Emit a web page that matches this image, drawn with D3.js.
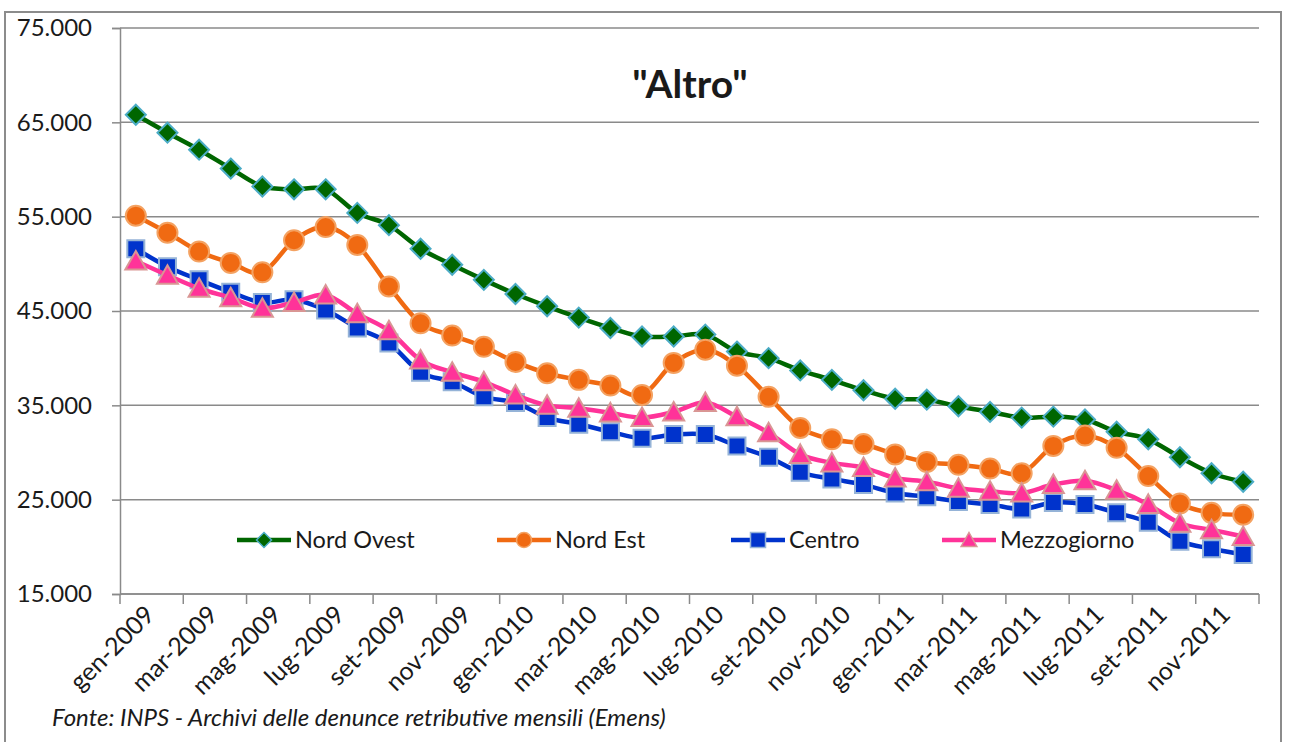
<!DOCTYPE html>
<html>
<head>
<meta charset="utf-8">
<script src="https://cdn.jsdelivr.net/npm/d3@7/dist/d3.min.js"></script>
<style>
  html, body { margin: 0; padding: 0; background: #fff; }
  svg { display: block; }
  text { font-family: Lato, "Open Sans", "DejaVu Sans", sans-serif; fill: #1a1a1a; }
</style>
</head>
<body>
<svg id="chart" width="1292" height="742"></svg>
<script>
// ---------------- DATA ----------------
const categories = [
  "gen-2009","feb-2009","mar-2009","apr-2009","mag-2009","giu-2009","lug-2009","ago-2009","set-2009","ott-2009","nov-2009","dic-2009",
  "gen-2010","feb-2010","mar-2010","apr-2010","mag-2010","giu-2010","lug-2010","ago-2010","set-2010","ott-2010","nov-2010","dic-2010",
  "gen-2011","feb-2011","mar-2011","apr-2011","mag-2011","giu-2011","lug-2011","ago-2011","set-2011","ott-2011","nov-2011","dic-2011"
];
const nordOvest = [65800,63900,62100,60100,58200,57900,57900,55400,54100,51600,49900,48300,
                   46800,45500,44300,43200,42300,42300,42500,40700,40000,38700,37700,36600,
                   35700,35600,34900,34300,33700,33800,33500,32200,31400,29500,27800,26900];
const nordEst   = [55100,53300,51300,50100,49100,52500,53900,52000,47600,43700,42400,41200,
                   39600,38400,37700,37100,36100,39500,40900,39200,35900,32600,31400,30900,
                   29800,29000,28700,28300,27800,30700,31800,30500,27500,24600,23600,23400];
const centro    = [51600,49700,48300,47000,45900,46200,45100,43200,41600,38500,37500,35900,
                   35300,33700,33000,32200,31500,31900,31900,30700,29500,27900,27200,26600,
                   25700,25300,24800,24500,24000,24700,24500,23600,22600,20600,19800,19200];
const mezzogiorno = [50300,48800,47400,46400,45300,45900,46700,44700,42900,39800,38500,37500,
                     36100,35000,34700,34200,33700,34300,35300,33800,32100,29800,28900,28400,
                     27300,26900,26200,25900,25700,26600,27000,26000,24500,22500,21800,21100];
const seriesNames = ["Nord Ovest","Nord Est","Centro","Mezzogiorno"];
const yTicks = [15000,25000,35000,45000,55000,65000,75000];
const titleText = '"Altro"';
const sourceText = "Fonte: INPS - Archivi delle denunce retributive mensili (Emens)";

// ---------------- STYLE ----------------
const styles = [
  {line:"#006600", fill:"#006600", stroke:"#4bacc6", shape:"diamond"},
  {line:"#f06a12", fill:"#f06a12", stroke:"#f4a262", shape:"circle"},
  {line:"#0033cc", fill:"#0033cc", stroke:"#95b3d7", shape:"square"},
  {line:"#ff3399", fill:"#ff3399", stroke:"#d99694", shape:"triangle"}
];
const seriesData = [nordOvest, nordEst, centro, mezzogiorno];

const svg = d3.select("#chart");
const pLeft = 120, pRight = 1259, pTop = 28, pBottom = 594;

// outer frame
svg.append("rect").attr("x",5).attr("y",12).attr("width",1276).attr("height",760)
  .attr("fill","none").attr("stroke","#8c8c8c").attr("stroke-width",2);

const x = d3.scaleBand().domain(categories).range([pLeft, pRight]).paddingInner(0).paddingOuter(0);
const y = d3.scaleLinear().domain([15000, 75000]).range([pBottom, pTop]);

const itLocale = d3.formatLocale({decimal:",", thousands:".", grouping:[3], currency:["€",""]});
const fmt = itLocale.format(",.0f");

// gridlines
svg.append("g").selectAll("line").data(yTicks).join("line")
  .attr("x1", pLeft).attr("x2", pRight)
  .attr("y1", d => y(d)).attr("y2", d => y(d))
  .attr("stroke","#8a8a8a").attr("stroke-width",1.5);

// y axis
const yAxis = d3.axisLeft(y).tickValues(yTicks).tickFormat(fmt).tickSize(8).tickPadding(20);
const gy = svg.append("g").attr("transform",`translate(${pLeft},0)`).call(yAxis);
gy.select(".domain").attr("stroke","#8a8a8a").attr("stroke-width",1.5);
gy.selectAll(".tick line").attr("stroke","#8a8a8a").attr("stroke-width",1.5);
gy.selectAll(".tick text").attr("font-size",24).attr("fill","#1a1a1a")
  .style("font-family","Lato, 'Open Sans', sans-serif");

// x axis (line + ticks every 2 categories)
svg.append("line").attr("x1",pLeft).attr("x2",pRight).attr("y1",pBottom).attr("y2",pBottom)
  .attr("stroke","#8a8a8a").attr("stroke-width",1.5);
const tickCats = categories.filter((d,i) => i % 2 === 0);
const tickPos = tickCats.map(c => x(c)).concat([pRight]);
svg.append("g").selectAll("line").data(tickPos).join("line")
  .attr("x1", d => d).attr("x2", d => d).attr("y1", pBottom).attr("y2", pBottom + 10)
  .attr("stroke","#8a8a8a").attr("stroke-width",1.5);
svg.append("g").selectAll("text").data(tickCats).join("text")
  .attr("transform", d => `translate(${x(d) + x.bandwidth()/2 + 7},${pBottom + 9}) rotate(-45)`)
  .attr("text-anchor","end").attr("dy","0.75em")
  .attr("font-size",25)
  .text(d => d);

// series
const line = d3.line()
  .x((d,i) => x(categories[i]) + x.bandwidth()/2)
  .y(d => y(d))
  .curve(d3.curveCatmullRom.alpha(0));

const symbolPath = {
  diamond: s => `M0,${-s}L${s},0L0,${s}L${-s},0Z`,
  circle: s => d3.arc()({innerRadius:0, outerRadius:s, startAngle:0, endAngle:2*Math.PI}),
  square: s => `M${-s},${-s}H${s}V${s}H${-s}Z`,
  triangle: s => `M0,${-s}L${s*1.05},${s*0.85}L${-s*1.05},${s*0.85}Z`
};
const markerSize = {diamond:10, circle:10, square:8.5, triangle:10};

seriesData.forEach((vals, k) => {
  const st = styles[k];
  const g = svg.append("g");
  g.append("path").attr("d", line(vals)).attr("fill","none")
    .attr("stroke", st.line).attr("stroke-width",4.5).attr("stroke-linejoin","round");
  g.selectAll("path.m").data(vals).join("path").attr("class","m")
    .attr("transform",(d,i) => `translate(${x(categories[i]) + x.bandwidth()/2},${y(d)})`)
    .attr("d", symbolPath[st.shape](markerSize[st.shape]))
    .attr("fill", st.fill).attr("stroke", st.stroke).attr("stroke-width",2);
});

// legend
const legendX = [237, 497, 731, 942];
const legendY = 540;
const lg = svg.append("g");
seriesNames.forEach((name, k) => {
  const st = styles[k];
  const x0 = legendX[k];
  lg.append("line").attr("x1",x0).attr("x2",x0+54).attr("y1",legendY).attr("y2",legendY)
    .attr("stroke", st.line).attr("stroke-width",4.5);
  lg.append("path").attr("transform",`translate(${x0+27},${legendY})`)
    .attr("d", symbolPath[st.shape](7.5))
    .attr("fill", st.fill).attr("stroke", st.stroke).attr("stroke-width",1.5);
  lg.append("text").attr("x", x0+58).attr("y", legendY).attr("dy","0.36em")
    .attr("font-size",23.5).text(name);
});

// title
svg.append("text").attr("x",690).attr("y",98).attr("text-anchor","middle")
  .attr("font-size",39).attr("font-weight","bold").text(titleText);

// source
svg.append("text").attr("x",52).attr("y",726).attr("font-size",24)
  .attr("font-style","italic").text(sourceText);
</script>
</body>
</html>
